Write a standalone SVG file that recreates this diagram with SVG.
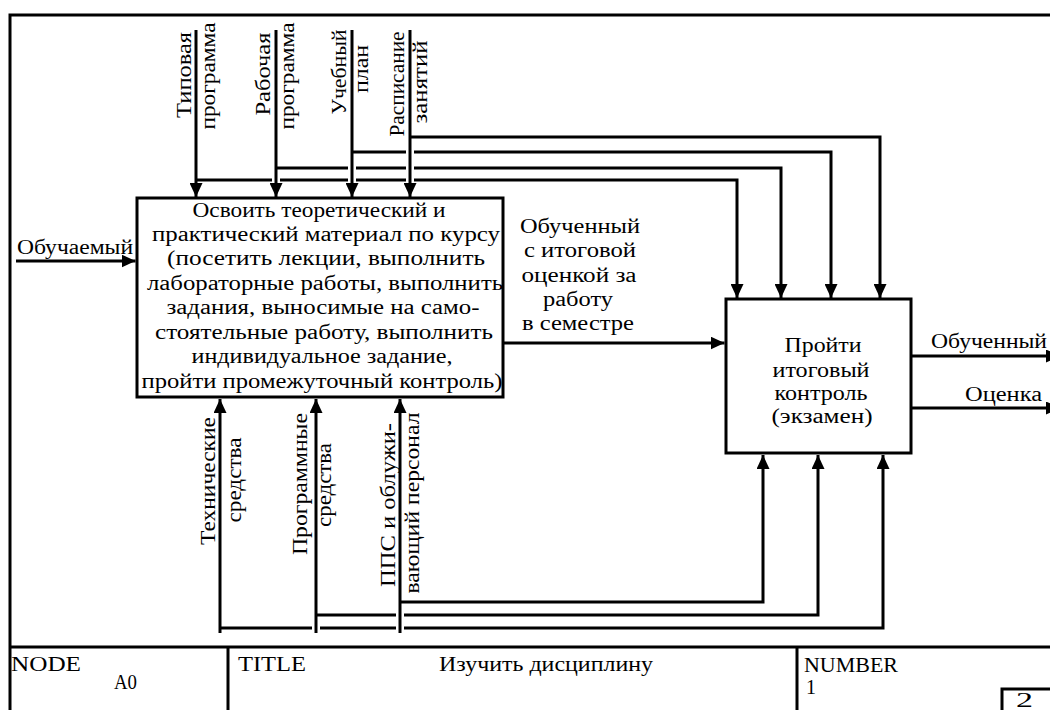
<svg xmlns="http://www.w3.org/2000/svg" width="1050" height="710" viewBox="0 0 1050 710">
<style>
text{font-family:"Liberation Serif","DejaVu Serif","Times New Roman",serif;font-size:20px;fill:#000}
.m{text-anchor:middle}
.e{text-anchor:end}
.box{fill:#fff;stroke:#000;stroke-width:3}
.ln{fill:none;stroke:#000;stroke-width:3}
.fr{fill:none;stroke:#000;stroke-width:3}
</style>
<defs>
<marker id="ah" markerUnits="userSpaceOnUse" markerWidth="14" markerHeight="13" refX="14" refY="6.5" orient="auto">
<path d="M0,0 L14,6.5 L0,13 z" fill="#000"/>
</marker>
</defs>
<rect width="1050" height="710" fill="#fff"/>
<g id="frame">
<path class="fr" d="M10,710 V15 H1050"/>
<path class="fr" d="M10,647 H1050 M228,647 V710 M797,647 V710 M1002,710 V689 H1050"/>
<text x="11" y="671" textLength="70" lengthAdjust="spacingAndGlyphs">NODE</text>
<text x="114" y="689" textLength="23" lengthAdjust="spacingAndGlyphs">A0</text>
<text x="238" y="671" textLength="68" lengthAdjust="spacingAndGlyphs">TITLE</text>
<text x="439" y="671" textLength="214" lengthAdjust="spacingAndGlyphs">Изучить дисциплину</text>
<text x="804" y="672" textLength="94" lengthAdjust="spacingAndGlyphs">NUMBER</text>
<text x="806" y="694">1</text>
<text x="1016" y="707" textLength="17" lengthAdjust="spacingAndGlyphs">2</text>
</g>
<g id="connectors">
<path class="ln" d="M196,30 V197" marker-end="url(#ah)"/>
<path class="ln" d="M276,30 V197" marker-end="url(#ah)"/>
<path class="ln" d="M352,30 V197" marker-end="url(#ah)"/>
<path class="ln" d="M410,30 V197" marker-end="url(#ah)"/>
<path class="ln" d="M196,180 H272 M280,180 H348 M356,180 H406 M414,180 H737 V298" marker-end="url(#ah)"/>
<path class="ln" d="M276,168 H348 M356,168 H406 M414,168 H781 V298" marker-end="url(#ah)"/>
<path class="ln" d="M352,152 H406 M414,152 H831 V298" marker-end="url(#ah)"/>
<path class="ln" d="M410,137 H880 V298" marker-end="url(#ah)"/>
<path class="ln" d="M220,633 V399" marker-end="url(#ah)"/>
<path class="ln" d="M316,633 V399" marker-end="url(#ah)"/>
<path class="ln" d="M400,633 V399" marker-end="url(#ah)"/>
<path class="ln" d="M400,602 H763 V455" marker-end="url(#ah)"/>
<path class="ln" d="M316,615 H396 M404,615 H818 V455" marker-end="url(#ah)"/>
<path class="ln" d="M220,628 H312 M320,628 H396 M404,628 H883 V455" marker-end="url(#ah)"/>
<path class="ln" d="M16,261 H135.5" marker-end="url(#ah)"/>
<path class="ln" d="M503,343 H724.5" marker-end="url(#ah)"/>
<path class="ln" d="M911,356 H1060" marker-end="url(#ah)"/>
<path class="ln" d="M911,408 H1060" marker-end="url(#ah)"/>
</g>
<g id="labels">
<text transform="translate(191,75) rotate(-90)" class="m" textLength="86" lengthAdjust="spacingAndGlyphs">Типовая</text>
<text transform="translate(215,76) rotate(-90)" class="m" textLength="107" lengthAdjust="spacingAndGlyphs">программа</text>
<text transform="translate(270,74) rotate(-90)" class="m" textLength="83" lengthAdjust="spacingAndGlyphs">Рабочая</text>
<text transform="translate(294,76) rotate(-90)" class="m" textLength="107" lengthAdjust="spacingAndGlyphs">программа</text>
<text transform="translate(346,72) rotate(-90)" class="m" textLength="85" lengthAdjust="spacingAndGlyphs">Учебный</text>
<text transform="translate(368,69) rotate(-90)" class="m" textLength="48" lengthAdjust="spacingAndGlyphs">план</text>
<text transform="translate(404,84) rotate(-90)" class="m" textLength="105" lengthAdjust="spacingAndGlyphs">Расписание</text>
<text transform="translate(427,82) rotate(-90)" class="m" textLength="83" lengthAdjust="spacingAndGlyphs">занятий</text>
<text transform="translate(215,481) rotate(-90)" class="m" textLength="128" lengthAdjust="spacingAndGlyphs">Технические</text>
<text transform="translate(241,480) rotate(-90)" class="m" textLength="85" lengthAdjust="spacingAndGlyphs">средства</text>
<text transform="translate(307,484) rotate(-90)" class="m" textLength="142" lengthAdjust="spacingAndGlyphs">Программные</text>
<text transform="translate(331,485) rotate(-90)" class="m" textLength="84" lengthAdjust="spacingAndGlyphs">средства</text>
<text transform="translate(395,505) rotate(-90)" class="m" textLength="164" lengthAdjust="spacingAndGlyphs">ППС и облужи-</text>
<text transform="translate(419,503) rotate(-90)" class="m" textLength="181" lengthAdjust="spacingAndGlyphs">вающий персонал</text>
<text x="17" y="254" textLength="116" lengthAdjust="spacingAndGlyphs">Обучаемый</text>
<text x="580" y="233" class="m" textLength="120" lengthAdjust="spacingAndGlyphs">Обученный</text>
<text x="580" y="257" class="m" textLength="112" lengthAdjust="spacingAndGlyphs">с итоговой</text>
<text x="579" y="282" class="m" textLength="115" lengthAdjust="spacingAndGlyphs">оценкой за</text>
<text x="578" y="306" class="m" textLength="70" lengthAdjust="spacingAndGlyphs">работу</text>
<text x="578" y="330" class="m" textLength="112" lengthAdjust="spacingAndGlyphs">в семестре</text>
<text x="1047" y="348" class="e" textLength="116" lengthAdjust="spacingAndGlyphs">Обученный</text>
<text x="1042" y="401" class="e" textLength="77" lengthAdjust="spacingAndGlyphs">Оценка</text>
</g>
<g id="node-a1">
<rect class="box" x="137" y="198" width="366" height="199"/>
<text x="319" y="217" class="m" textLength="253" lengthAdjust="spacingAndGlyphs">Освоить теоретический и</text>
<text x="326" y="241" class="m" textLength="348" lengthAdjust="spacingAndGlyphs">практический материал по курсу</text>
<text x="326" y="265" class="m" textLength="318" lengthAdjust="spacingAndGlyphs">(посетить лекции, выполнить</text>
<text x="325" y="290" class="m" textLength="356" lengthAdjust="spacingAndGlyphs">лабораторные работы, выполнить</text>
<text x="323" y="314" class="m" textLength="313" lengthAdjust="spacingAndGlyphs">задания, выносимые на само-</text>
<text x="324" y="339" class="m" textLength="338" lengthAdjust="spacingAndGlyphs">стоятельные работу, выполнить</text>
<text x="322" y="363" class="m" textLength="261" lengthAdjust="spacingAndGlyphs">индивидуальное задание,</text>
<text x="322" y="388" class="m" textLength="361" lengthAdjust="spacingAndGlyphs">пройти промежуточный контроль)</text>
</g>
<g id="node-a2">
<rect class="box" x="726" y="299" width="185" height="154"/>
<text x="823" y="352" class="m" textLength="77" lengthAdjust="spacingAndGlyphs">Пройти</text>
<text x="821" y="377" class="m" textLength="97" lengthAdjust="spacingAndGlyphs">итоговый</text>
<text x="821" y="400" class="m" textLength="93" lengthAdjust="spacingAndGlyphs">контроль</text>
<text x="822" y="423" class="m" textLength="101" lengthAdjust="spacingAndGlyphs">(экзамен)</text>
</g>
</svg>
